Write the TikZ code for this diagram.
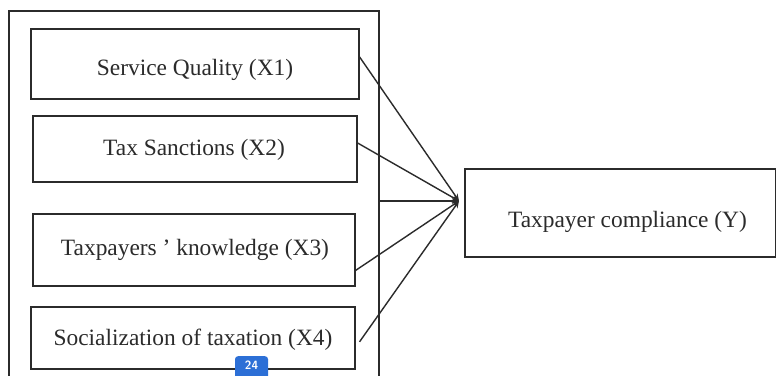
\documentclass[tikz,border=0pt]{standalone}
\usepackage{fontspec}
\setmainfont{Liberation Serif}
\usetikzlibrary{calc,arrows.meta}
\definecolor{ink}{HTML}{2B2B2B}
\definecolor{badge}{HTML}{2C6FD6}
\begin{document}
\begin{tikzpicture}[x=1pt,y=-1pt,
  box/.style={draw=ink,line width=1.1pt,minimum width=#1,inner sep=0pt},
  lbl/.style={text=ink,inner sep=0pt,font=\fontsize{23.4}{28}\selectfont},
  conn/.style={draw=ink,line width=1.4pt,-{Stealth[length=7pt,width=6pt]}}]
\useasboundingbox (0,0) rectangle (776,375);
\clip (0,0) rectangle (776,375);
\fill[white] (0,0) rectangle (776,375);
% outer frame
\node[box=370pt,minimum height=389pt] (outer) at (194,205.5) {};
% independent variable boxes
\node[box=328pt,minimum height=70pt] (b1) at (195,64) {};
\node[box=324pt,minimum height=66pt] (b2) at (195,149) {};
\node[box=322pt,minimum height=72pt] (b3) at (194,250) {};
\node[box=324pt,minimum height=62pt] (b4) at (193,338) {};
\node[box=311pt,minimum height=88pt] (y) at (620.5,213) {};
% labels
\node[lbl] (t1) at (195,70) {Service Quality (X1)};
\node[lbl] (t2) at (194,150) {Tax Sanctions (X2)};
\node[lbl] (t3) at (195,250) {Taxpayers ' knowledge (X3)};
\node[lbl] (t4) at (193,340) {Socialization of taxation (X4)};
\node[lbl] (ty) at (627.5,222) {Taxpayer compliance (Y)};
% convergence point
\coordinate (c) at (459,201);
\draw[conn] ($(b1.north east)!0.4!(b1.south east)$) -- (c);
\draw[conn] ($(b2.north east)!0.41!(b2.south east)$) -- (c);
\draw[conn] (outer.east |- c) -- (c);
\draw[conn] ($(b3.north east)!0.78!(b3.south east)$) -- (c);
\draw[conn] ([xshift=4pt]$(b4.north east)!0.56!(b4.south east)$) -- (c);
% page badge
\node[fill=badge,rounded corners=3pt,minimum width=33pt,minimum height=26pt,inner sep=0pt,anchor=north] (pg) at (251.5,356) {};
\node[text=white,font=\fontsize{12}{14}\selectfont\sffamily\bfseries,inner sep=0pt] (pgt) at (251.5,365.5) {24};
\end{tikzpicture}
\end{document}
